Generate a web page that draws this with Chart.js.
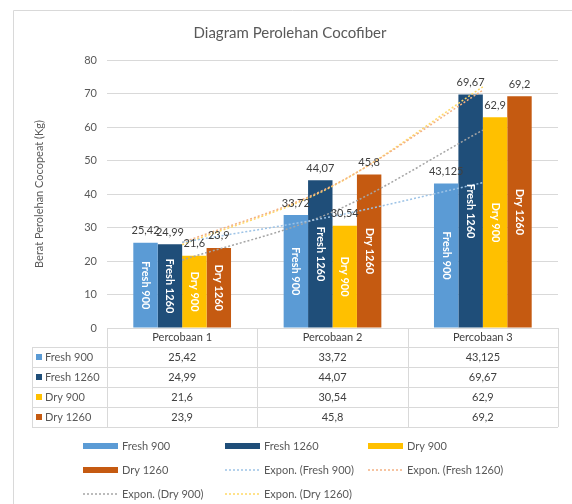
<!DOCTYPE html>
<html>
<head>
<meta charset="utf-8">
<script src="https://cdn.jsdelivr.net/npm/chart.js@4.4.1/dist/chart.umd.min.js"></script>
<style>
    html, body { margin: 0; padding: 0; background: #fff; }
</style>
</head>
<body>
<canvas id="chart" width="572" height="504"></canvas>
<script>
const categories = ['Percobaan 1', 'Percobaan 2', 'Percobaan 3'];
const seriesNames = ['Fresh 900', 'Fresh 1260', 'Dry 900', 'Dry 1260'];
const fresh900 = [25.42, 33.72, 43.125];
const fresh1260 = [24.99, 44.07, 69.67];
const dry900 = [21.6, 30.54, 62.9];
const dry1260 = [23.9, 45.8, 69.2];
const yMin = 0;
const yMax = 80;
const yStep = 10;

const barColors = ['#5B9BD5', '#1F4E79', '#FFC000', '#C55A11'];
const trendColors = ['#9DC3E6', '#F4B183', '#A5A5A5', '#FFD966'];
const textColor = '#595959';
const lineColor = '#d9d9d9';
const fontFamily = 'Lato, "Noto Sans", sans-serif';

// exponential trendline, like Excel's "Expon." option
function expFit(values) {
    const xs = values.map((v, i) => i + 1);
    const ls = values.map((v) => Math.log(v));
    const mx = xs.reduce((a, b) => a + b, 0) / xs.length;
    const ml = ls.reduce((a, b) => a + b, 0) / ls.length;
    let num = 0;
    let den = 0;
    xs.forEach((x, i) => {
        num += (x - mx) * (ls[i] - ml);
        den += (x - mx) * (x - mx);
    });
    const b = num / den;
    const a = ml - b * mx;
    return xs.map((x) => Math.exp(a + b * x));
}

function fmt(v) {
    return String(v).replace('.', ',');
}

const seriesData = [fresh900, fresh1260, dry900, dry1260];

const barSets = seriesData.map((data, i) => ({
    type: 'bar',
    label: seriesNames[i],
    data: data,
    backgroundColor: barColors[i],
    categoryPercentage: 0.65,
    barPercentage: 1.0,
    order: 2,
}));

const trendSets = seriesData.map((data, i) => ({
    type: 'line',
    label: 'Expon. (' + seriesNames[i] + ')',
    data: expFit(data),
    borderColor: trendColors[i],
    borderWidth: 1.5,
    borderDash: [2, 2],
    pointRadius: 0,
    fill: false,
    cubicInterpolationMode: 'monotone',
    order: 1,
}));

const TABLE_LEFT = 32;
const HEADER_H = 19;
const ROW_H = 20;

const decorPlugin = {
    id: 'decor',
    afterDatasetsDraw(chart) {
        const ctx = chart.ctx;
        ctx.save();
        for (let i = 0; i < 4; i++) {
            const meta = chart.getDatasetMeta(i);
            meta.data.forEach((bar, j) => {
                const v = seriesData[i][j];
                // value above the bar
                ctx.fillStyle = '#404040';
                ctx.font = '11px ' + fontFamily;
                ctx.textAlign = 'center';
                ctx.textBaseline = 'middle';
                ctx.fillText(fmt(v), bar.x, bar.y - 12);
                // series name inside the bar, rotated
                ctx.save();
                ctx.translate(bar.x, (bar.y + bar.base) / 2);
                ctx.rotate(Math.PI / 2);
                ctx.fillStyle = '#ffffff';
                ctx.font = 'bold 11px ' + fontFamily;
                ctx.fillText(seriesNames[i], 0, 0);
                ctx.restore();
            });
        }
        ctx.restore();
    },
    afterDraw(chart) {
        const ctx = chart.ctx;
        const area = chart.chartArea;
        const xs = chart.scales.x;
        const colW = (area.right - area.left) / categories.length;
        ctx.save();

        // outer frame
        ctx.strokeStyle = lineColor;
        ctx.lineWidth = 1;
        ctx.beginPath();
        ctx.moveTo(13.5, 504);
        ctx.lineTo(13.5, 10.5);
        ctx.lineTo(572, 10.5);
        ctx.stroke();

        // title
        ctx.fillStyle = textColor;
        ctx.font = '15px ' + fontFamily;
        ctx.textAlign = 'center';
        ctx.textBaseline = 'middle';
        ctx.fillText('Diagram Perolehan Cocofiber', 290, 33);

        // data table
        const top = area.bottom;
        const bottom = top + HEADER_H + ROW_H * 4;
        ctx.beginPath();
        ctx.moveTo(area.left, top + 0.5);
        ctx.lineTo(area.right, top + 0.5);
        for (let r = 0; r <= 4; r++) {
            const y = Math.round(top + HEADER_H + r * ROW_H) + 0.5;
            ctx.moveTo(TABLE_LEFT, y);
            ctx.lineTo(area.right, y);
        }
        ctx.moveTo(TABLE_LEFT + 0.5, top + HEADER_H);
        ctx.lineTo(TABLE_LEFT + 0.5, bottom);
        for (let c = 0; c <= categories.length; c++) {
            const x = Math.round(area.left + c * colW) + 0.5;
            ctx.moveTo(x, top);
            ctx.lineTo(x, bottom);
        }
        ctx.stroke();

        ctx.font = '11px ' + fontFamily;
        ctx.fillStyle = '#404040';
        categories.forEach((cat, j) => {
            const cx = xs.getPixelForValue(j);
            ctx.textAlign = 'center';
            ctx.fillText(cat, cx, top + HEADER_H / 2);
            seriesData.forEach((data, i) => {
                ctx.fillText(fmt(data[j]), cx, top + HEADER_H + ROW_H * i + ROW_H / 2);
            });
        });
        seriesNames.forEach((name, i) => {
            const cy = top + HEADER_H + ROW_H * i + ROW_H / 2;
            ctx.fillStyle = barColors[i];
            ctx.fillRect(TABLE_LEFT + 4, cy - 3, 6, 6);
            ctx.fillStyle = textColor;
            ctx.textAlign = 'left';
            ctx.fillText(name, TABLE_LEFT + 13, cy);
        });

        // legend
        const items = [];
        seriesNames.forEach((n, i) => items.push({ text: n, color: barColors[i], bar: true }));
        seriesNames.forEach((n, i) => items.push({ text: 'Expon. (' + n + ')', color: trendColors[i], bar: false }));
        const colX = [83, 225, 368];
        const rowY = [446, 470, 494];
        items.forEach((it, k) => {
            const x = colX[k % 3];
            const y = rowY[Math.floor(k / 3)];
            if (it.bar) {
                ctx.fillStyle = it.color;
                ctx.fillRect(x, y - 3, 35, 6);
            } else {
                ctx.strokeStyle = it.color;
                ctx.lineWidth = 1.5;
                ctx.setLineDash([2, 2]);
                ctx.beginPath();
                ctx.moveTo(x, y);
                ctx.lineTo(x + 35, y);
                ctx.stroke();
                ctx.setLineDash([]);
            }
            ctx.fillStyle = textColor;
            ctx.textAlign = 'left';
            ctx.fillText(it.text, x + 39, y);
        });
        ctx.restore();
    },
};

new Chart(document.getElementById('chart'), {
    data: {
        labels: categories,
        datasets: [...barSets, ...trendSets],
    },
    options: {
        responsive: false,
        animation: false,
        devicePixelRatio: 1,
        layout: { padding: { left: 33, right: 14, top: 60, bottom: 176 } },
        plugins: {
            legend: { display: false },
            tooltip: { enabled: false },
        },
        scales: {
            x: {
                ticks: { display: false },
                grid: { display: false },
                border: { display: false },
                afterFit: (s) => { s.height = 0; },
            },
            y: {
                min: yMin,
                max: yMax,
                ticks: {
                    stepSize: yStep,
                    color: textColor,
                    padding: 10,
                    font: { family: fontFamily, size: 11 },
                },
                grid: { color: lineColor, drawTicks: false },
                border: { display: false },
                title: {
                    display: true,
                    text: 'Berat Perolehan Cocopeat (Kg)',
                    color: textColor,
                    padding: 0,
                    font: { family: fontFamily, size: 11 },
                },
                afterFit: (s) => { s.width = 74; },
            },
        },
    },
    plugins: [decorPlugin],
});
</script>
</body>
</html>
